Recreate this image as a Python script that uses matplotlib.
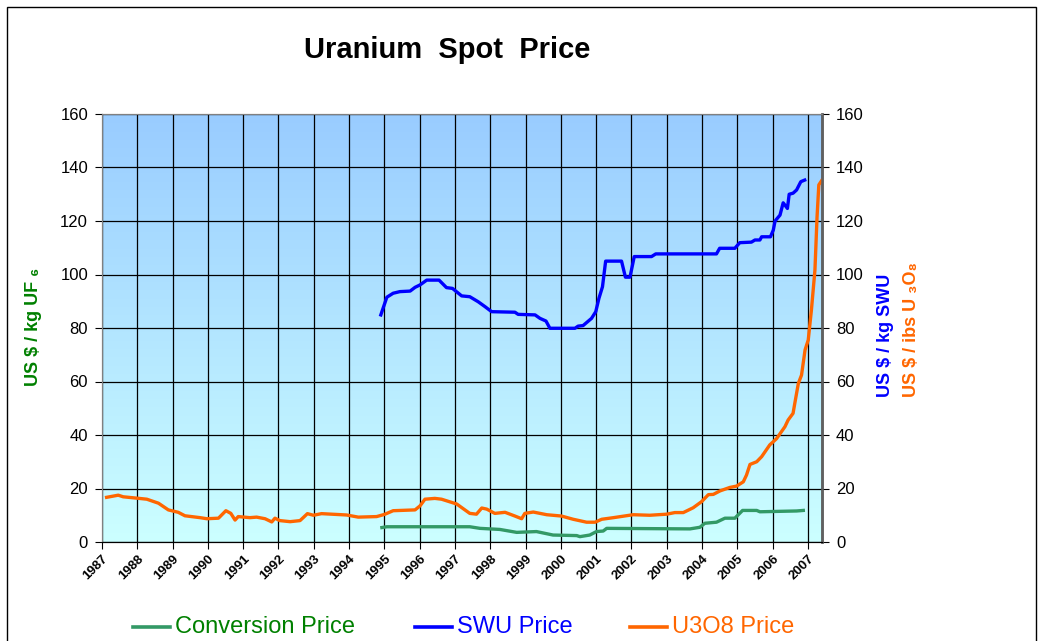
import matplotlib
matplotlib.use('Agg')
import matplotlib.pyplot as plt
import numpy as np
from matplotlib.patches import Rectangle

plt.rcParams['font.family'] = ['Liberation Sans', 'DejaVu Sans']

# decimal year / price pairs
conv_years = [1994.93, 1995.07, 1997.42, 1997.71, 1998.27, 1998.75, 1999.31, 1999.78,
              2000.45, 2000.54, 2000.82, 2001.01, 2001.2, 2001.3, 2003.66, 2003.94,
              2004.08, 2004.41, 2004.65, 2004.93, 2005.15, 2005.55, 2005.64, 2006.68, 2006.87]
conv_price = [5.4, 5.7, 5.7, 5.1, 4.7, 3.6, 3.9, 2.6,
              2.4, 2.0, 2.6, 3.9, 4.1, 5.1, 4.9, 5.5,
              7.0, 7.4, 8.9, 8.9, 11.8, 11.8, 11.3, 11.6, 11.8]

swu_years = [1994.9, 1995.07, 1995.25, 1995.44, 1995.73, 1995.87, 1996.01, 1996.2, 1996.55,
             1996.76, 1996.93, 1997.19, 1997.42, 1997.66, 1997.85, 1998.04, 1998.7, 1998.79,
             1999.27, 1999.41, 1999.58, 1999.69, 2000.4, 2000.49, 2000.63, 2000.87, 2000.99,
             2001.08, 2001.18, 2001.27, 2001.72, 2001.83, 2001.96, 2002.08, 2002.57, 2002.69,
             2004.41, 2004.5, 2004.93, 2005.07, 2005.4, 2005.5, 2005.64, 2005.69, 2005.94,
             2006.02, 2006.07, 2006.21, 2006.3, 2006.42, 2006.47, 2006.58, 2006.68, 2006.8, 2006.91]
swu_price = [84.9, 91.5, 93.0, 93.6, 93.8, 95.2, 96.1, 97.9, 97.9,
             95.1, 94.8, 92.0, 91.7, 89.8, 88.0, 86.1, 85.9, 85.1,
             84.9, 83.6, 82.6, 79.9, 79.9, 80.7, 80.9, 83.6, 86.1,
             91.1, 95.4, 105.0, 105.0, 99.0, 99.0, 106.7, 106.7, 107.7,
             107.7, 109.8, 109.8, 111.9, 112.1, 112.9, 112.9, 114.1, 114.1,
             116.6, 120.0, 122.2, 126.8, 124.7, 130.0, 130.4, 131.6, 134.7, 135.3]

u3o8_years = [1987.13, 1987.46, 1987.6, 1987.98, 1988.27, 1988.6, 1988.88, 1989.16, 1989.35,
              1989.78, 1989.97, 1990.3, 1990.51, 1990.65, 1990.77, 1990.86, 1991.19, 1991.38,
              1991.62, 1991.81, 1991.9, 1992.04, 1992.33, 1992.61, 1992.7, 1992.82, 1992.99,
              1993.22, 1993.93, 1994.26, 1994.78, 1995.0, 1995.25, 1995.87, 1996.01, 1996.15,
              1996.43, 1996.62, 1997.05, 1997.42, 1997.61, 1997.76, 1997.9, 1998.13, 1998.42,
              1998.7, 1998.89, 1998.98, 1999.22, 1999.6, 2000.02, 2000.35, 2000.73, 2000.97,
              2001.16, 2001.49, 2002.05, 2002.52, 2003.0, 2003.23, 2003.47, 2003.75, 2003.99,
              2004.18, 2004.32, 2004.51, 2004.79, 2004.98, 2005.17, 2005.26, 2005.36, 2005.55,
              2005.69, 2005.92, 2006.11, 2006.35, 2006.44, 2006.58, 2006.63, 2006.73, 2006.82,
              2006.92, 2007.01, 2007.1, 2007.2, 2007.26, 2007.31, 2007.4]
u3o8_price = [16.7, 17.5, 16.9, 16.4, 16.0, 14.5, 12.0, 11.1, 9.8,
              9.1, 8.7, 8.9, 11.7, 10.7, 8.2, 9.5, 9.1, 9.3,
              8.7, 7.5, 8.9, 8.0, 7.6, 8.0, 9.1, 10.6, 10.0,
              10.6, 10.1, 9.3, 9.5, 10.3, 11.7, 12.0, 13.5, 16.0,
              16.3, 16.0, 14.2, 10.7, 10.4, 12.7, 12.3, 10.7, 11.1,
              9.7, 8.7, 10.7, 11.2, 10.2, 9.7, 8.5, 7.4, 7.4,
              8.5, 9.1, 10.2, 10.0, 10.4, 11.0, 11.0, 12.8, 15.1,
              17.7, 17.8, 19.1, 20.4, 20.9, 22.5, 25.0, 29.0, 30.0,
              31.9, 36.3, 38.6, 43.1, 45.6, 48.1, 51.9, 59.3, 62.4,
              71.8, 75.5, 86.7, 101.7, 121.6, 133.5, 135.3]

years = list(range(1987, 2008))
y_ticks = [0, 20, 40, 60, 80, 100, 120, 140, 160]

green_line = '#339966'
green_text = '#008000'
blue = '#0000FF'
orange = '#FF6600'

fig = plt.figure(figsize=(10.4, 6.41), dpi=100)
ax = fig.add_axes([102 / 1040, 1 - 542 / 641, 720 / 1040, 428 / 641])
ax2 = ax.twinx()

xmin, xmax = 1987.0, 2007.4
ax.set_xlim(xmin, xmax)
ax.set_ylim(0, 160)
ax2.set_ylim(0, 160)

# gradient background
grad = np.linspace(0, 1, 256).reshape(-1, 1)
top = np.array([0.60, 0.80, 1.0])
bot = np.array([0.80, 1.0, 1.0])
img = bot + (top - bot) * grad[:, :, None] * np.ones((1, 1, 3))
ax.imshow(img, extent=[xmin, xmax, 0, 160], origin='lower', aspect='auto', zorder=0)

ax.set_xticks(years)
ax.set_xticklabels([str(y) for y in years], rotation=45, ha='right', va='top',
                   rotation_mode='anchor', fontsize=9.5, fontweight='bold')
ax.set_yticks(y_ticks)
ax2.set_yticks(y_ticks)
ax.tick_params(axis='y', labelsize=12, length=5, direction='out', pad=5)
ax2.tick_params(axis='y', labelsize=12, length=5, direction='out', pad=5)
ax.tick_params(axis='x', length=5, direction='out', pad=3)
ax.grid(True, color='black', linewidth=0.9)
ax.set_axisbelow(False)
for g in ax.get_xgridlines() + ax.get_ygridlines():
    g.set_zorder(1)

ax.plot(conv_years, conv_price, color=green_line, linewidth=2.4, zorder=3)
ax2.plot(swu_years, swu_price, color=blue, linewidth=2.4)
ax2.plot(u3o8_years, u3o8_price, color=orange, linewidth=2.4)

for a in (ax, ax2):
    a.spines['top'].set_color('#808080')
    a.spines['left'].set_color('#808080')
    a.spines['right'].set_color('#606060')
    a.spines['right'].set_linewidth(1.8)
    a.spines['bottom'].set_color('black')

fig.text(447 / 1040, 1 - 50 / 641, 'Uranium  Spot  Price', ha='center', va='center',
         fontsize=21, fontweight='bold')

fig.text(33 / 1040, 1 - 327 / 641, 'US $ / kg UF \u2086', rotation=90, ha='center', va='center',
         fontsize=13, fontweight='bold', color=green_text)
fig.text(886 / 1040, 1 - 397 / 641, 'US $ / kg SWU', rotation=90, ha='center', va='bottom',
         fontsize=13, fontweight='bold', color=blue)
fig.text(912 / 1040, 1 - 397 / 641, 'US $ / ibs U \u2083O\u2088', rotation=90, ha='center', va='bottom',
         fontsize=13, fontweight='bold', color=orange)

# legend at the bottom
legend_items = [('Conversion Price', green_line, green_text, 133),
                ('SWU Price', blue, blue, 415),
                ('U3O8 Price', orange, orange, 630)]
for label, lc, tc, x0 in legend_items:
    fig.lines.append(plt.Line2D([x0 / 1040, (x0 + 37) / 1040], [1 - 627 / 641] * 2,
                                color=lc, linewidth=2.6, transform=fig.transFigure))
    fig.text((x0 + 42) / 1040, 1 - 627 / 641, label, ha='left', va='center',
             fontsize=17, color=tc)

fig.patches.append(Rectangle((7 / 1040, -0.05), 1029 / 1040, 1.05 - 7 / 641, fill=False,
                             edgecolor='black', linewidth=1, transform=fig.transFigure))

fig.savefig('out.png', dpi=100)
